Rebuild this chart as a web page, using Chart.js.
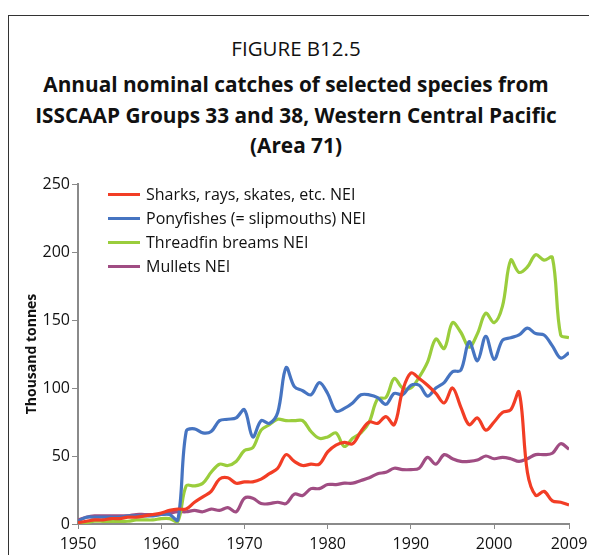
<!DOCTYPE html>
<html>
<head>
<meta charset="utf-8">
<script src="https://cdn.jsdelivr.net/npm/chart.js@4.4.1/dist/chart.umd.min.js"></script>
<style>
    html, body { margin: 0; padding: 0; background: #fff; overflow: hidden; }
    body { width: 589px; height: 555px; position: relative; font-family: "Open Sans", sans-serif; color: #111; }
    .frame { position: absolute; left: 8px; top: 15px; width: 700px; height: 700px; border: 1.5px solid #333; box-sizing: border-box; }
    .title { position: absolute; left: 0; width: 592px; text-align: center; white-space: nowrap; }
    .fig { top: 34px; font-size: 20.5px; line-height: 28px; }
    .main { font-weight: bold; font-size: 20.8px; line-height: 30.5px; top: 69px; }
    #chart-wrap { position: absolute; left: 0; top: 0; width: 589px; height: 555px; }
    #legend { position: absolute; left: 108px; top: 182px; font-size: 16px; }
    #legend .item { height: 24px; display: flex; align-items: center; }
    #legend .swatch { width: 32px; height: 3px; margin-right: 6px; }
</style>
</head>
<body>
<div class="frame"></div>
<div class="title fig">FIGURE B12.5</div>
<div class="title main">Annual nominal catches of selected species from<br>ISSCAAP Groups 33 and 38, Western Central Pacific<br>(Area 71)</div>
<div id="chart-wrap"><canvas id="catch-chart" width="589" height="555"></canvas></div>
<div id="legend"></div>
<script>
const years = [1950, 1951, 1952, 1953, 1954, 1955, 1956, 1957, 1958, 1959,
    1960, 1961, 1962, 1963, 1964, 1965, 1966, 1967, 1968, 1969,
    1970, 1971, 1972, 1973, 1974, 1975, 1976, 1977, 1978, 1979,
    1980, 1981, 1982, 1983, 1984, 1985, 1986, 1987, 1988, 1989,
    1990, 1991, 1992, 1993, 1994, 1995, 1996, 1997, 1998, 1999,
    2000, 2001, 2002, 2003, 2004, 2005, 2006, 2007, 2008, 2009];
const xTicks = [1950, 1960, 1970, 1980, 1990, 2000, 2009];
const yTicks = [0, 50, 100, 150, 200, 250];

const sharks = [1, 2, 3, 3, 4, 4, 5, 5, 6, 7,
    8, 10, 11, 11, 16, 20, 24, 33, 34, 30,
    31, 31, 33, 37, 41, 51, 46, 43, 44, 44,
    53, 58, 60, 59, 68, 75, 74, 79, 73, 98,
    111, 107, 102, 96, 89, 100, 86, 73, 78, 69,
    75, 82, 84, 97, 38, 21, 24, 17, 16, 14];
const ponyfishes = [2, 5, 5, 5, 5, 5, 6, 6, 6, 6,
    7, 7, 3, 68, 70, 67, 68, 76, 77, 78,
    84, 64, 76, 74, 82, 115, 101, 98, 95, 104,
    96, 83, 85, 89, 95, 95, 93, 88, 96, 95,
    102, 102, 94, 100, 104, 112, 113, 134, 120, 138,
    121, 135, 137, 139, 144, 140, 139, 131, 122, 126];
const threadfin = [0, 1, 2, 2, 2, 2, 2, 3, 3, 3,
    4, 4, 2, 28, 28, 30, 38, 44, 43, 46,
    54, 56, 69, 73, 77, 76, 76, 76, 68, 63,
    64, 67, 57, 63, 67, 75, 92, 93, 107, 100,
    100, 108, 119, 136, 129, 148, 141, 130, 140, 155,
    148, 160, 194, 185, 189, 198, 194, 196, 139, 137];
const mullets = [3, 5, 6, 6, 6, 6, 6, 7, 7, 7,
    7, 8, 9, 9, 10, 9, 11, 10, 12, 9,
    19, 19, 15, 15, 16, 15, 22, 21, 26, 26,
    29, 29, 30, 30, 32, 34, 37, 38, 41, 40,
    40, 41, 49, 44, 51, 48, 46, 46, 47, 50,
    48, 49, 48, 46, 48, 51, 51, 52, 59, 55];

const seriesDefs = [
    ["Sharks, rays, skates, etc. NEI", sharks, "#f23d25"],
    ["Ponyfishes (= slipmouths) NEI", ponyfishes, "#4674c1"],
    ["Threadfin breams NEI", threadfin, "#9acd3c"],
    ["Mullets NEI", mullets, "#a04d83"]
];

document.getElementById("legend").innerHTML = seriesDefs.map(([label, , color]) =>
    `<div class="item"><span class="swatch" style="background:${color}"></span><span>${label}</span></div>`).join("");

const axisColor = "#8a8a8a";
const tickFont = { family: "Open Sans", size: 16 };

new Chart(document.getElementById("catch-chart"), {
    type: "line",
    data: {
        datasets: seriesDefs.map(([label, values, color]) => ({
            label,
            data: years.map((yr, i) => ({ x: yr, y: values[i] })),
            borderColor: color,
            backgroundColor: color,
            borderWidth: 3.2,
            pointRadius: 0,
            tension: 0.35,
            fill: false
        }))
    },
    options: {
        responsive: false,
        animation: false,
        layout: { padding: { top: 184, right: 20, left: 24, bottom: 0 } },
        plugins: { legend: { display: false }, tooltip: { enabled: false } },
        scales: {
            x: {
                type: "linear",
                min: 1950,
                max: 2009,
                afterBuildTicks: scale => { scale.ticks = xTicks.map(v => ({ value: v })); },
                afterFit: scale => { scale.height = 31; scale.paddingRight = 0; scale.paddingLeft = 0; },
                grid: { drawOnChartArea: false, drawTicks: true, tickLength: 5, color: axisColor },
                border: { color: axisColor, width: 2 },
                ticks: { color: "#111", font: tickFont, padding: 6, maxRotation: 0, callback: v => String(v) }
            },
            y: {
                min: 0,
                max: 250,
                afterBuildTicks: scale => { scale.ticks = yTicks.map(v => ({ value: v })); },
                afterFit: scale => { scale.width = 54; },
                grid: { drawOnChartArea: false, drawTicks: true, tickLength: 6, color: axisColor },
                border: { color: axisColor, width: 2 },
                ticks: { color: "#111", font: tickFont, padding: 2 },
                title: { display: true, text: "Thousand tonnes", color: "#111", font: { family: "Open Sans", size: 14, weight: "bold" }, padding: 0 }
            }
        }
    }
});
</script>
</body>
</html>
